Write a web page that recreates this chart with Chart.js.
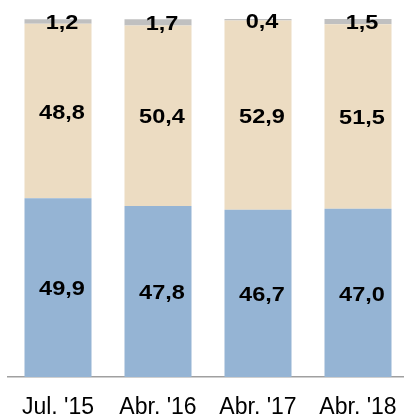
<!DOCTYPE html>
<html>
<head>
<meta charset="utf-8">
<script src="https://cdn.jsdelivr.net/npm/chart.js@4/dist/chart.umd.min.js"></script>
<style>
  html, body { margin: 0; padding: 0; background: #fff; }
  #wrap { width: 404px; height: 418px; overflow: hidden; position: relative; }
  #box { width: 408px; height: 418px; }
</style>
</head>
<body>
<div id="wrap"><div id="box"><canvas id="chart"></canvas></div></div>
<script>
// chart data
const categories = ["Jul. '15", "Abr. '16", "Abr. '17", "Abr. '18"];
const bottomValues = [49.9, 47.8, 46.7, 47.0];
const middleValues = [48.8, 50.4, 52.9, 51.5];
const topValues = [1.2, 1.7, 0.4, 1.5];

// bold value labels centred in each segment (slightly wide, like the original)
const segmentLabels = {
  id: 'segmentLabels',
  afterDatasetsDraw(chart) {
    const ctx = chart.ctx;
    chart.data.datasets.forEach((ds, di) => {
      const meta = chart.getDatasetMeta(di);
      meta.data.forEach((bar, i) => {
        const txt = ds.data[i].toFixed(1).replace('.', ',');
        const cy = (bar.y + bar.base) / 2 + 2;
        ctx.save();
        ctx.translate(bar.x + 4, cy);
        ctx.scale(1.12, 1);
        ctx.font = 'bold 21px "Liberation Sans", Arial, sans-serif';
        ctx.fillStyle = '#000';
        ctx.textAlign = 'center';
        ctx.textBaseline = 'middle';
        ctx.fillText(txt, 0, 0);
        ctx.restore();
      });
    });
  }
};

const ctx = document.getElementById('chart').getContext('2d');
new Chart(ctx, {
  type: 'bar',
  data: {
    labels: categories,
    datasets: [
      { data: bottomValues, backgroundColor: '#95b4d4' },
      { data: middleValues, backgroundColor: '#ecdcc2' },
      { data: topValues, backgroundColor: '#c0c0c0' }
    ]
  },
  options: {
    responsive: true,
    maintainAspectRatio: false,
    animation: false,
    layout: { padding: { left: 8, right: 0, top: 19, bottom: 0 } },
    datasets: { bar: { categoryPercentage: 1, barPercentage: 0.67 } },
    plugins: { legend: { display: false }, tooltip: { enabled: false } },
    scales: {
      x: {
        stacked: true,
        grid: { display: false },
        border: { display: true, color: '#a0a0a0', width: 1.5 },
        ticks: {
          color: '#000',
          font: { family: '"Liberation Sans", Arial, sans-serif', size: 23 },
          padding: 9,
          maxRotation: 0
        },
        afterFit(scale) { scale.height = 41; }
      },
      y: { stacked: true, display: false, min: 0, max: 100 }
    }
  },
  plugins: [segmentLabels]
});
</script>
</body>
</html>
